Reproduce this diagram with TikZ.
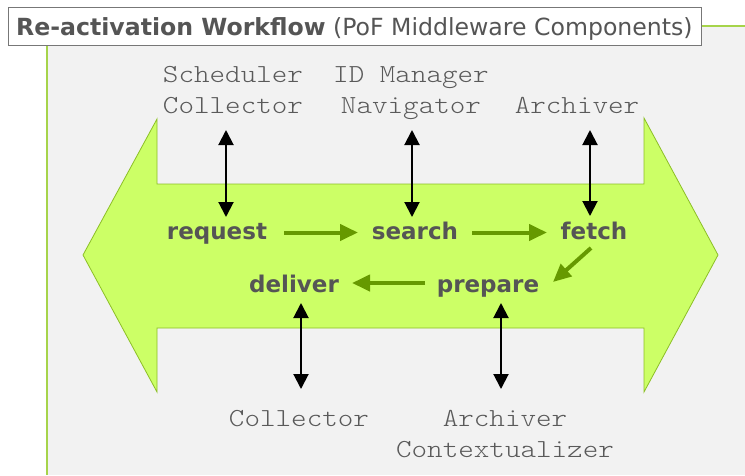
\documentclass[tikz,border=0pt]{standalone}
\usepackage{fontspec}
\setmainfont{DejaVu Sans}
\newfontfamily\monofam{lmmonolt10-regular.otf}[FakeStretch=1.14]
\usetikzlibrary{arrows.meta}
\definecolor{bggray}{HTML}{F2F2F2}
\definecolor{shapefill}{HTML}{CCFF66}
\definecolor{shapeedge}{HTML}{8CBF26}
\definecolor{flowgreen}{HTML}{669900}
\definecolor{framegreen}{HTML}{A6D44A}
\definecolor{labelgray}{HTML}{555555}
\definecolor{monogray}{HTML}{5A5A5A}
\definecolor{titleedge}{HTML}{777777}
\tikzset{
  comp/.style={font=\monofam\fontsize{26}{31}\selectfont, text=monogray, align=center, inner sep=0pt, anchor=base},
  stage/.style={font=\bfseries\fontsize{23}{27}\selectfont, text=labelgray, inner sep=0pt, anchor=base},
  blk/.style={line width=2pt, black, {Triangle[length=15pt,width=15pt]}-{Triangle[length=15pt,width=15pt]}},
  grn/.style={line width=4pt, flowgreen, -{Triangle[length=18pt,width=16pt]}},
}
\begin{document}
\begin{tikzpicture}[x=1pt,y=-1pt]
\useasboundingbox (0,0) rectangle (745,475);
\fill[white] (0,0) rectangle (745,475);
% background panel
\fill[bggray] (47,26) rectangle (745,475);
\draw[framegreen, line width=1.5pt] (47,45) -- (47,475);
\draw[framegreen, line width=1.5pt] (700,26) -- (745,26);
% title
\node[draw=titleedge, line width=1pt, fill=white, anchor=north west, minimum width=693pt, minimum height=38pt, inner sep=0pt] (titlebox) at (8,7) {};
\node[anchor=base west, inner sep=0pt, text=labelgray, font=\fontsize{23.6}{28}\selectfont] (title) at (16,35) {\textbf{Re-activation Workflow} (PoF Middleware Components)};
% big double arrow
\filldraw[fill=shapefill, draw=shapeedge, line width=0.8pt]
  (83,255) -- (157,119) -- (157,184) -- (644,184) -- (644,118) -- (718,255)
  -- (644,392) -- (644,328) -- (157,328) -- (157,392) -- cycle;
% component labels (anchor = baseline of last line)
\node[comp] (sched) at (233,113) {Scheduler\\Collector};
\node[comp] (idm) at (411,113) {ID Manager\\Navigator};
\node[comp] (arch) at (577,113) {Archiver};
\node[comp] (coll) at (299,426) {Collector};
\node[comp] (archc) at (505,457) {Archiver\\Contextualizer};
% stages
\node[stage] (req) at (217,239) {request};
\node[stage] (srch) at (415,239) {search};
\node[stage] (fetch) at (594,239) {fetch};
\node[stage] (prep) at (488,292) {prepare};
\node[stage] (deliv) at (294,292) {deliver};
% endpoints
\coordinate (a1) at (226,130); \coordinate (a2) at (226,217);
\coordinate (b1) at (412,130); \coordinate (b2) at (412,217);
\coordinate (c1) at (590,130); \coordinate (c2) at (590,216);
\coordinate (d1) at (301,303); \coordinate (d2) at (301,389);
\coordinate (e1) at (501,303); \coordinate (e2) at (501,389);
\coordinate (g1) at (284,232.5); \coordinate (g2) at (358,232.5);
\coordinate (h1) at (472,232.5); \coordinate (h2) at (547,232.5);
\coordinate (i1) at (591,248); \coordinate (i2) at (553,282);
\coordinate (j1) at (425,283); \coordinate (j2) at (352,283);
\draw[blk] (a1) -- (a2);
\draw[blk] (b1) -- (b2);
\draw[blk] (c1) -- (c2);
\draw[blk] (d1) -- (d2);
\draw[blk] (e1) -- (e2);
\draw[grn] (g1) -- (g2);
\draw[grn] (h1) -- (h2);
\draw[grn] (i1) -- (i2);
\draw[grn] (j1) -- (j2);
\end{tikzpicture}
\end{document}
